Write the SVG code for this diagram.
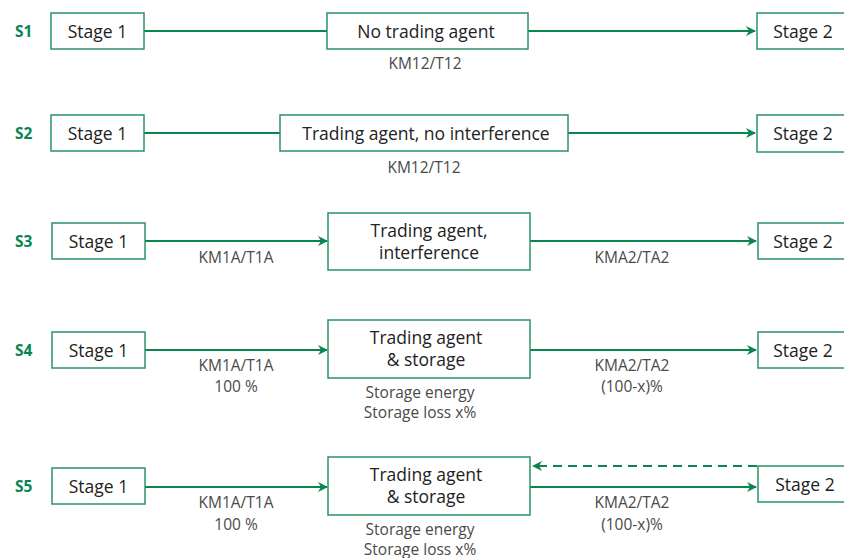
<svg xmlns="http://www.w3.org/2000/svg" width="844" height="558" viewBox="0 0 844 558">
<style>
.box{fill:#fff;stroke:#2a9466;stroke-width:1.5}
.t{font-family:"Open Sans","Noto Sans",sans-serif;font-size:17.5px;fill:#222;text-anchor:middle}
.lb{font-family:"Open Sans","Noto Sans",sans-serif;font-size:15.5px;fill:#4a4a4a;text-anchor:middle}
.s{font-family:"Open Sans","Noto Sans",sans-serif;font-size:15.5px;font-weight:bold;fill:#0a8550}
.ln{stroke:#0a8550;stroke-width:2;fill:none}
.dash{stroke-dasharray:9 6}
</style>
<defs>
<marker id="ah" viewBox="0 0 10 10" refX="9" refY="5" markerWidth="10" markerHeight="10" markerUnits="userSpaceOnUse" orient="auto">
<path d="M0,0 L10,5 L0,10 L3,5 z" fill="#0a8550"/>
</marker>
</defs>
<g id="labels">
<text class="s" x="15" y="37">S1</text>
<text class="s" x="15" y="139">S2</text>
<text class="s" x="15" y="247">S3</text>
<text class="s" x="15" y="356">S4</text>
<text class="s" x="15" y="492">S5</text>
</g>
<g id="connectors">
<line class="ln" x1="144" y1="31" x2="327" y2="31"/>
<line class="ln" x1="528" y1="31" x2="755" y2="31" marker-end="url(#ah)"/>
<line class="ln" x1="144" y1="133" x2="280" y2="133"/>
<line class="ln" x1="568" y1="133" x2="755" y2="133" marker-end="url(#ah)"/>
<line class="ln" x1="145" y1="241" x2="327" y2="241" marker-end="url(#ah)"/>
<line class="ln" x1="530" y1="241" x2="756" y2="241" marker-end="url(#ah)"/>
<line class="ln" x1="145" y1="350" x2="327" y2="350" marker-end="url(#ah)"/>
<line class="ln" x1="530" y1="350" x2="756" y2="350" marker-end="url(#ah)"/>
<line class="ln" x1="145" y1="487" x2="327" y2="487" marker-end="url(#ah)"/>
<line class="ln" x1="530" y1="487" x2="756" y2="487" marker-end="url(#ah)"/>
<line class="ln dash" x1="757" y1="466" x2="533" y2="466" marker-end="url(#ah)"/>
<text class="lb" x="425" y="69">KM12/T12</text>
<text class="lb" x="424" y="173">KM12/T12</text>
<text class="lb" x="236" y="263">KM1A/T1A</text>
<text class="lb" x="632" y="263">KMA2/TA2</text>
<text class="lb" x="236" y="371">KM1A/T1A</text>
<text class="lb" x="236" y="392">100 %</text>
<text class="lb" x="632" y="371">KMA2/TA2</text>
<text class="lb" x="632" y="392">(100-x)%</text>
<text class="lb" x="236" y="508">KM1A/T1A</text>
<text class="lb" x="236" y="530">100 %</text>
<text class="lb" x="632" y="508">KMA2/TA2</text>
<text class="lb" x="632" y="530">(100-x)%</text>
</g>
<g id="s1-stage1"><rect class="box" x="51" y="13" width="93" height="36"/><text class="t" x="97.5" y="38">Stage 1</text></g>
<g id="s1-agent"><rect class="box" x="327" y="13" width="201" height="36"/><text class="t" x="426" y="38">No trading agent</text></g>
<g id="s1-stage2"><rect class="box" x="757" y="13" width="95" height="36"/><text class="t" x="803" y="38">Stage 2</text></g>
<g id="s2-stage1"><rect class="box" x="51" y="115" width="93" height="36"/><text class="t" x="97.5" y="140">Stage 1</text></g>
<g id="s2-agent"><rect class="box" x="280" y="115" width="288" height="36"/><text class="t" x="426" y="140">Trading agent, no interference</text></g>
<g id="s2-stage2"><rect class="box" x="757" y="115" width="95" height="37"/><text class="t" x="803" y="140">Stage 2</text></g>
<g id="s3-stage1"><rect class="box" x="52" y="223" width="93" height="36"/><text class="t" x="98.5" y="248">Stage 1</text></g>
<g id="s3-agent"><rect class="box" x="328" y="213" width="202" height="57"/><text class="t" x="429" y="237">Trading agent,</text><text class="t" x="429" y="259">interference</text></g>
<g id="s3-stage2"><rect class="box" x="758" y="223" width="95" height="36"/><text class="t" x="803" y="248">Stage 2</text></g>
<g id="s4-stage1"><rect class="box" x="52" y="332" width="93" height="36"/><text class="t" x="98.5" y="357">Stage 1</text></g>
<g id="s4-agent"><rect class="box" x="328" y="320" width="202" height="58"/><text class="t" x="426" y="344">Trading agent</text><text class="t" x="426" y="366">&amp; storage</text><text class="lb" x="420" y="398">Storage energy</text><text class="lb" x="420" y="418">Storage loss x%</text></g>
<g id="s4-stage2"><rect class="box" x="758" y="332" width="95" height="36"/><text class="t" x="803" y="357">Stage 2</text></g>
<g id="s5-stage1"><rect class="box" x="52" y="468" width="93" height="36"/><text class="t" x="98.5" y="493">Stage 1</text></g>
<g id="s5-agent"><rect class="box" x="328" y="457" width="202" height="58"/><text class="t" x="426" y="481">Trading agent</text><text class="t" x="426" y="503">&amp; storage</text><text class="lb" x="420" y="535">Storage energy</text><text class="lb" x="420" y="555">Storage loss x%</text></g>
<g id="s5-stage2"><rect class="box" x="758" y="466" width="95" height="36"/><text class="t" x="805" y="491">Stage 2</text></g>
</svg>
